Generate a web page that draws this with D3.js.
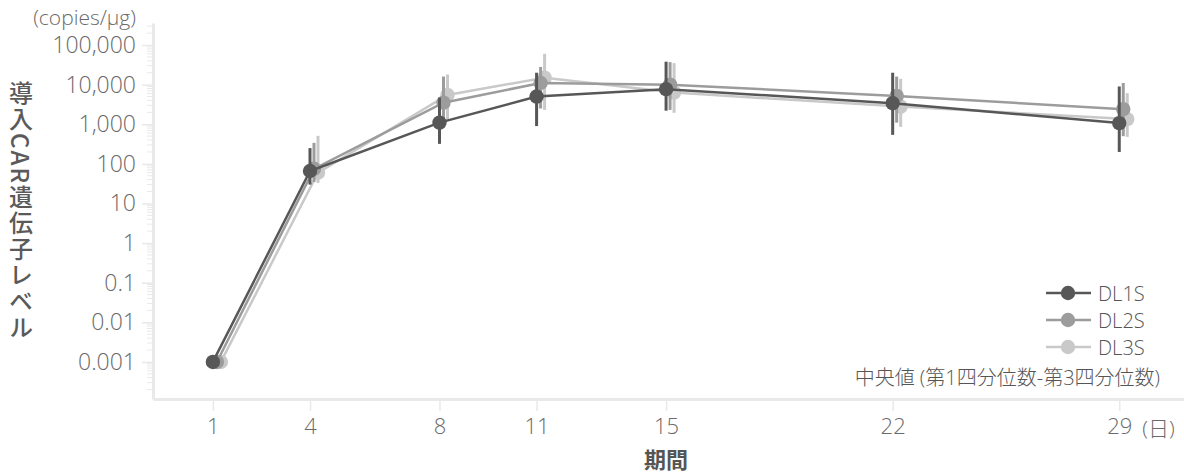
<!DOCTYPE html>
<html lang="ja">
<head>
<meta charset="utf-8">
<script src="https://cdn.jsdelivr.net/npm/d3@7"></script>
<style>
  html, body { margin: 0; padding: 0; background: #fff; }
  svg { display: block; font-family: "Open Sans", "Noto Sans CJK JP", sans-serif; }
</style>
</head>
<body>
<svg id="chart" width="1184" height="473"></svg>
<script>
// Sampling days
const days = [1, 4, 8, 11, 15, 22, 29];
const seriesNames = ["DL1S", "DL2S", "DL3S"];
const seriesColors = ["#575757", "#9c9c9c", "#c9c9c9"];

// Median and interquartile range per series (copies/µg)
const dl1sMedian = [0.001, 66, 1100, 5000, 7700, 3400, 1070];
const dl1sQ1     = [0.001, 30, 320, 900, 2200, 540, 200];
const dl1sQ3     = [0.001, 250, 4700, 20000, 38000, 20000, 9000];

const dl2sMedian = [0.001, 75, 3500, 11000, 10000, 5200, 2400];
const dl2sQ1     = [0.001, 35, 1300, 2500, 2300, 1100, 500];
const dl2sQ3     = [0.001, 340, 16000, 28000, 37000, 16000, 11000];

const dl3sMedian = [0.001, 60, 5500, 15000, 6300, 2800, 1350];
const dl3sQ1     = [0.001, 33, 1300, 2300, 1950, 860, 480];
const dl3sQ3     = [0.001, 510, 18000, 60000, 35000, 14000, 6100];

// Axis tick values
const yTickValues = [0.001, 0.01, 0.1, 1, 10, 100, 1000, 10000, 100000];
const xTickValues = days;

const seriesData = [
  { name: seriesNames[0], color: seriesColors[0], med: dl1sMedian, q1: dl1sQ1, q3: dl1sQ3, dx: 0 },
  { name: seriesNames[1], color: seriesColors[1], med: dl2sMedian, q1: dl2sQ1, q3: dl2sQ3, dx: 4 },
  { name: seriesNames[2], color: seriesColors[2], med: dl3sMedian, q1: dl3sQ1, q3: dl3sQ3, dx: 8 }
];

const svg = d3.select("#chart");

const x = d3.scaleLinear().domain([-0.85, 31.0]).range([153, 1184]);
const y = d3.scaleLog().domain([1.16e-4, 3.6e5]).range([399, 23]);

const axisColor = "#e9e9e9";
const textColor = "#6a6a6a";
const lightFont = "'Open Sans', 'Noto Sans CJK JP', sans-serif";

// Minor ticks on log axis
const minorTicks = [];
for (let e = -4; e <= 5; e++) {
  for (let k = 2; k <= 9; k++) {
    const v = k * Math.pow(10, e);
    if (v >= y.domain()[0] && v <= y.domain()[1]) minorTicks.push(v);
  }
}
svg.append("g")
  .selectAll("line")
  .data(minorTicks)
  .join("line")
  .attr("x1", 147).attr("x2", 153)
  .attr("y1", d => y(d)).attr("y2", d => y(d))
  .attr("stroke", axisColor).attr("stroke-width", 1);

// Y axis
const fmt = v => v >= 1 ? d3.format(",")(v) : String(v);
const yAxis = svg.append("g")
  .attr("transform", "translate(153,0)")
  .call(d3.axisLeft(y).tickValues(yTickValues).tickFormat(fmt).tickSize(11).tickSizeOuter(0).tickPadding(6));
yAxis.select(".domain").attr("stroke", axisColor).attr("stroke-width", 3);
yAxis.selectAll(".tick line").attr("stroke", axisColor).attr("stroke-width", 1.5);
yAxis.selectAll(".tick text")
  .attr("fill", textColor).attr("font-size", 23).attr("font-weight", 300)
  .attr("font-family", lightFont);

// X axis
const xAxis = svg.append("g")
  .attr("transform", "translate(0,399)")
  .call(d3.axisBottom(x).tickValues(xTickValues).tickFormat(d3.format("d")).tickSize(12).tickSizeOuter(0).tickPadding(7));
xAxis.select(".domain").attr("stroke", axisColor).attr("stroke-width", 3);
xAxis.selectAll(".tick line").attr("stroke", axisColor).attr("stroke-width", 1.5);
xAxis.selectAll(".tick text")
  .attr("fill", textColor).attr("font-size", 22).attr("font-weight", 300)
  .attr("font-family", lightFont);

// Unit labels
svg.append("text")
  .attr("x", 136).attr("y", 25)
  .attr("text-anchor", "end")
  .attr("fill", textColor).attr("font-size", 21).attr("font-weight", 300)
  .attr("font-family", lightFont)
  .text("(copies/µg)");

svg.append("text")
  .attr("x", x(29) + 23).attr("y", 436)
  .attr("fill", textColor).attr("font-size", 21).attr("font-weight", 300)
  .attr("font-family", lightFont)
  .text("(日)");

// Axis titles
svg.append("text")
  .attr("x", x(15)).attr("y", 468)
  .attr("text-anchor", "middle")
  .attr("fill", "#555").attr("font-size", 22).attr("font-weight", 700)
  .attr("font-family", "'Noto Sans CJK JP', sans-serif")
  .text("期間");

svg.append("text")
  .attr("transform", "translate(21,81)")
  .attr("writing-mode", "vertical-rl")
  .attr("fill", "#5a5a5a").attr("font-size", 24).attr("font-weight", 500)
  .attr("letter-spacing", 2)
  .attr("dominant-baseline", "central")
  .attr("font-family", "'Noto Sans CJK JP', sans-serif")
  .text("導入CAR遺伝子レベル");

// Series: drawn lightest first so DL1S sits on top
const line = d3.line();
[...seriesData].reverse().forEach(s => {
  const g = svg.append("g");
  const pts = days.map((d, i) => ({ day: d, med: s.med[i], q1: s.q1[i], q3: s.q3[i] }));

  g.selectAll("line.err")
    .data(pts.filter(p => p.q3 > p.q1))
    .join("line")
    .attr("class", "err")
    .attr("x1", p => x(p.day) + s.dx).attr("x2", p => x(p.day) + s.dx)
    .attr("y1", p => y(p.q3)).attr("y2", p => y(p.q1))
    .attr("stroke", s.color).attr("stroke-width", 3);

  g.append("path")
    .attr("d", line(pts.map(p => [x(p.day) + s.dx, y(p.med)])))
    .attr("fill", "none").attr("stroke", s.color).attr("stroke-width", 2.5);

  g.selectAll("circle")
    .data(pts)
    .join("circle")
    .attr("cx", p => x(p.day) + s.dx).attr("cy", p => y(p.med))
    .attr("r", 7.2).attr("fill", s.color);
});

// Legend
const legend = svg.append("g");
const legendRows = [293, 320, 347];
seriesData.forEach((s, i) => {
  const row = legend.append("g").attr("transform", `translate(0,${legendRows[i]})`);
  row.append("line").attr("x1", 1046).attr("x2", 1091).attr("y1", 0).attr("y2", 0)
    .attr("stroke", s.color).attr("stroke-width", 2.5);
  row.append("circle").attr("cx", 1068).attr("cy", 0).attr("r", 7.2).attr("fill", s.color);
  row.append("text").attr("x", 1098).attr("y", 0).attr("dominant-baseline", "central")
    .attr("fill", "#555").attr("font-size", 20).attr("font-weight", 300)
    .attr("font-family", lightFont)
    .text(s.name);
});
legend.append("text")
  .attr("x", 1160).attr("y", 377)
  .attr("text-anchor", "end").attr("dominant-baseline", "central")
  .attr("fill", "#555").attr("font-size", 20).attr("font-weight", 300)
  .attr("font-family", lightFont)
  .text("中央値 (第1四分位数-第3四分位数)");
</script>
</body>
</html>
